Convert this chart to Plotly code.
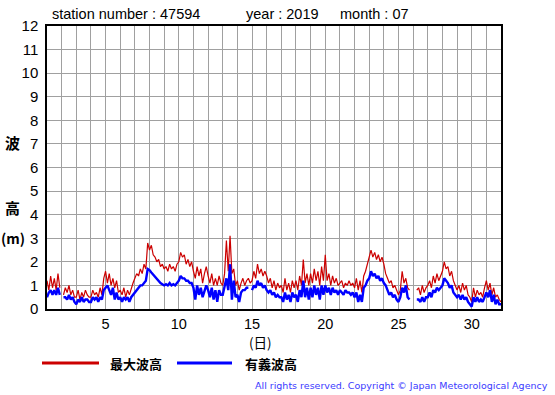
import plotly.graph_objects as go

W, H = 555, 395
L, R, T, B = 47, 501, 26, 309

station = "47594"
year = "2019"
month = "07"

days = list(range(1, 32))
hours_per_step = 3

# 3-hourly values (00,03,06,09,12,15,18,21) for each day of the month, metres
max_wave = [
    [1.2, 0.8, 1.4, 0.9, 1.3, 0.8, 1.5, 0.9],
    [None, 0.6, 0.9, 0.7, 1.0, 0.6, 0.8, 0.5],
    [0.5, 0.8, 0.4, 0.7, 0.5, 0.8, 0.6, 0.5],
    [0.5, 0.8, 0.6, 0.7, 0.5, 0.9, 0.6, 1.3],
    [1.6, 1.1, 1.5, 1.0, 1.3, 0.9, 1.2, 0.7],
    [0.8, 0.6, 0.9, 0.5, 0.8, 0.6, 0.9, 1.1],
    [1.3, 1.5, 1.4, 1.7, 1.5, 1.9, 1.7, 2.8],
    [2.5, 2.7, 2.3, 2.2, 2.0, 2.1, 1.8, 1.9],
    [1.7, 1.8, 1.6, 1.9, 1.7, 1.8, 1.6, 1.9],
    [2.0, 2.4, 2.2, 2.3, 1.9, 2.1, 1.8, 2.0],
    [1.6, 1.3, 1.8, 1.4, 1.7, 1.1, 1.5, 1.8],
    [1.4, 1.1, 1.5, 1.0, 1.3, 1.0, 1.4, 1.1],
    [1.0, 1.5, 2.9, 1.6, 3.1, 1.5, 1.7, 1.0],
    [1.2, 0.8, 1.1, 1.3, 1.0, 1.2, 1.3, 1.1],
    [1.2, 1.6, 1.3, 1.9, 1.5, 1.7, 1.4, 1.6],
    [1.4, 1.1, 1.3, 0.9, 1.2, 0.8, 1.1, 0.9],
    [1.0, 0.7, 1.3, 0.8, 1.1, 0.7, 1.2, 0.9],
    [1.2, 0.8, 1.4, 1.0, 2.1, 1.1, 1.5, 1.0],
    [1.5, 1.1, 1.7, 1.2, 1.6, 1.0, 1.8, 1.2],
    [2.3, 1.2, 1.5, 1.0, 1.4, 1.1, 1.3, 1.0],
    [1.1, 1.2, 0.9, 1.1, 1.0, 1.2, 1.0, 1.1],
    [0.9, 1.3, 0.8, 1.2, 0.7, 1.4, 1.6, 1.9],
    [2.1, 2.5, 2.2, 2.4, 2.1, 2.3, 2.0, 2.2],
    [1.9, 1.5, 1.3, 1.1, 1.2, 0.9, 1.0, 0.8],
    [0.6, 0.8, 1.6, 1.1, 1.3, 0.9, 0.8, None],
    [None, None, 0.8, 0.9, 0.6, 1.0, 0.7, 0.9],
    [1.0, 1.2, 0.9, 1.4, 1.1, 1.5, 1.2, 1.4],
    [1.6, 2.0, 1.7, 1.8, 1.4, 1.6, 1.2, 1.0],
    [0.8, 1.0, 0.7, 1.1, 0.8, 1.0, 0.6, 0.5],
    [0.3, 0.9, 0.5, 0.8, 0.6, 0.7, 0.5, 0.9],
    [1.2, 0.8, 1.1, 0.6, 0.9, 0.5, 0.6, 0.4],
]
sig_wave = [
    [0.5, 0.7, 0.8, 0.6, 0.8, 0.6, 0.9, 0.6],
    [None, 0.5, 0.5, 0.4, 0.6, 0.4, 0.5, 0.3],
    [0.2, 0.4, 0.3, 0.5, 0.3, 0.4, 0.4, 0.3],
    [0.3, 0.5, 0.4, 0.5, 0.3, 0.5, 0.4, 0.8],
    [0.9, 1.0, 0.8, 0.6, 0.9, 0.4, 0.7, 0.4],
    [0.5, 0.3, 0.5, 0.4, 0.5, 0.3, 0.5, 0.6],
    [0.7, 0.8, 0.9, 1.0, 1.0, 1.1, 1.2, 1.7],
    [1.65, 1.55, 1.45, 1.35, 1.3, 1.2, 1.1, 1.05],
    [1.0, 1.05, 1.0, 1.1, 1.0, 1.05, 1.0, 1.1],
    [1.2, 1.4, 1.3, 1.3, 1.2, 1.2, 1.1, 1.1],
    [0.9, 0.4, 1.0, 0.6, 0.9, 0.5, 0.8, 1.0],
    [0.8, 0.5, 0.9, 0.4, 0.8, 0.3, 0.8, 0.6],
    [0.6, 0.9, 1.3, 0.8, 1.9, 0.4, 1.2, 0.5],
    [0.6, 0.3, 0.7, 0.8, 0.8, 0.9, 0.9, None],
    [0.8, 1.0, 0.9, 1.2, 1.0, 1.1, 0.9, 1.0],
    [0.8, 0.7, 0.8, 0.6, 0.7, 0.5, 0.6, 0.5],
    [0.5, 0.3, 0.7, 0.4, 0.6, 0.3, 0.7, 0.5],
    [0.6, 0.3, 0.8, 0.5, 1.2, 0.5, 0.9, 0.4],
    [0.9, 0.5, 1.0, 0.6, 0.9, 0.4, 1.0, 0.6],
    [1.0, 0.7, 0.9, 0.6, 0.9, 0.7, 0.8, 0.6],
    [0.8, 0.7, 0.6, 0.8, 0.7, 0.7, 0.6, 0.7],
    [0.5, 0.7, 0.3, 0.6, 0.3, 0.9, 1.0, 1.2],
    [1.3, 1.6, 1.4, 1.5, 1.3, 1.4, 1.2, 1.3],
    [1.1, 1.0, 0.8, 0.6, 0.7, 0.5, 0.6, 0.4],
    [0.3, 0.5, 0.9, 0.7, 1.0, 0.5, 0.4, None],
    [None, None, 0.4, 0.4, 0.3, 0.5, 0.3, 0.5],
    [0.5, 0.7, 0.5, 0.8, 0.7, 0.9, 0.8, 0.9],
    [1.0, 1.3, 1.2, 1.1, 0.9, 1.0, 0.7, 0.6],
    [0.5, 0.6, 0.4, 0.6, 0.4, 0.5, 0.3, 0.2],
    [0.1, 0.5, 0.3, 0.5, 0.3, 0.4, 0.3, 0.5],
    [0.7, 0.5, 0.8, 0.3, 0.6, 0.2, 0.4, 0.2],
]
end_max, end_sig = 0.3, 0.2

x_tick_labels = ["5", "10", "15", "20", "25", "30"]
y_ticks = list(range(0, 13))

# flatten to time series
t, ymax, ysig = [], [], []
for d, rm, rs in zip(days, max_wave, sig_wave):
    for k in range(len(rm)):
        t.append(d + k * hours_per_step / 24)
        ymax.append(rm[k])
        ysig.append(rs[k])
t.append(32)
ymax.append(end_max)
ysig.append(end_sig)


def px(x):
    return (x - L) / (R - L)


def py(y):
    return (B - y) / (B - T)


fig = go.Figure()
fig.add_trace(go.Scatter(x=t, y=ymax, mode="lines", line=dict(color="#cc0000", width=1.2),
                         connectgaps=False, showlegend=False))
fig.add_trace(go.Scatter(x=t, y=ysig, mode="lines", line=dict(color="#0000ff", width=2.4),
                         connectgaps=False, showlegend=False))

tickvals = list(range(1, 33))
ticktext = [str(v) if str(v) in x_tick_labels else "" for v in tickvals]

fig.update_layout(
    width=W, height=H,
    margin=dict(l=L, r=W - R, t=T, b=H - B, autoexpand=False),
    paper_bgcolor="white", plot_bgcolor="white",
    font=dict(family="Liberation Sans, Arial, sans-serif", color="black"),
    xaxis=dict(range=[1, 32], tickvals=tickvals, ticktext=ticktext, showgrid=True,
               gridcolor="#a0a0a0", gridwidth=1, ticks="", showline=True, linecolor="black",
               linewidth=1.5, mirror=True, zeroline=False, tickfont=dict(size=14.5),
               ticklabelstandoff=1),
    yaxis=dict(range=[0, 12], tickvals=y_ticks, showgrid=True, gridcolor="#a0a0a0",
               gridwidth=1, ticks="", showline=True, linecolor="black", linewidth=1.5,
               mirror=True, zeroline=False, tickfont=dict(size=15), ticklabelstandoff=4),
)

ann = []
ann.append(dict(text=f"station number : {station}", x=px(50), y=py(14), xanchor="left",
                yanchor="middle", font=dict(size=14.5)))
ann.append(dict(text=f"year : {year}", x=px(244), y=py(14), xanchor="left",
                yanchor="middle", font=dict(size=14.5)))
ann.append(dict(text=f"month : {month}", x=px(338), y=py(14), xanchor="left",
                yanchor="middle", font=dict(size=14.5)))
cjk = "Noto Sans CJK JP, sans-serif"
ann.append(dict(text="<b>波</b>", x=px(12), y=py(142), font=dict(size=15, family=cjk)))
ann.append(dict(text="<b>高</b>", x=px(12), y=py(207), font=dict(size=15, family=cjk)))
ann.append(dict(text="<b>(m)</b>", x=px(13), y=py(238), font=dict(size=14, family=cjk)))
ann.append(dict(text="(日)", x=px(260), y=py(331), yanchor="top", borderpad=0,
                font=dict(size=13.5, family=cjk)))
ann.append(dict(text="<b>最大波高</b>", x=px(108), y=py(363), xanchor="left",
                font=dict(size=13, family=cjk)))
ann.append(dict(text="<b>有義波高</b>", x=px(243), y=py(363), xanchor="left",
                font=dict(size=13, family=cjk)))
ann.append(dict(text="All rights reserved. Copyright © Japan Meteorological Agency",
                x=px(550), y=py(385), xanchor="right",
                font=dict(size=9.5, family="DejaVu Sans, sans-serif", color="#3a3aff")))
for a in ann:
    a.update(xref="paper", yref="paper", showarrow=False)
    a.setdefault("xanchor", "center")
    a.setdefault("yanchor", "middle")
fig.update_layout(annotations=ann)

fig.add_shape(type="line", xref="paper", yref="paper", x0=px(42), x1=px(99), y0=py(363),
              y1=py(363), line=dict(color="#cc0000", width=3))
fig.add_shape(type="line", xref="paper", yref="paper", x0=px(177), x1=px(232), y0=py(363),
              y1=py(363), line=dict(color="#0000ff", width=3))

fig.write_html("out.html", config={"displayModeBar": False},
               post_script="document.body.style.margin='0';document.body.style.padding='0';")
